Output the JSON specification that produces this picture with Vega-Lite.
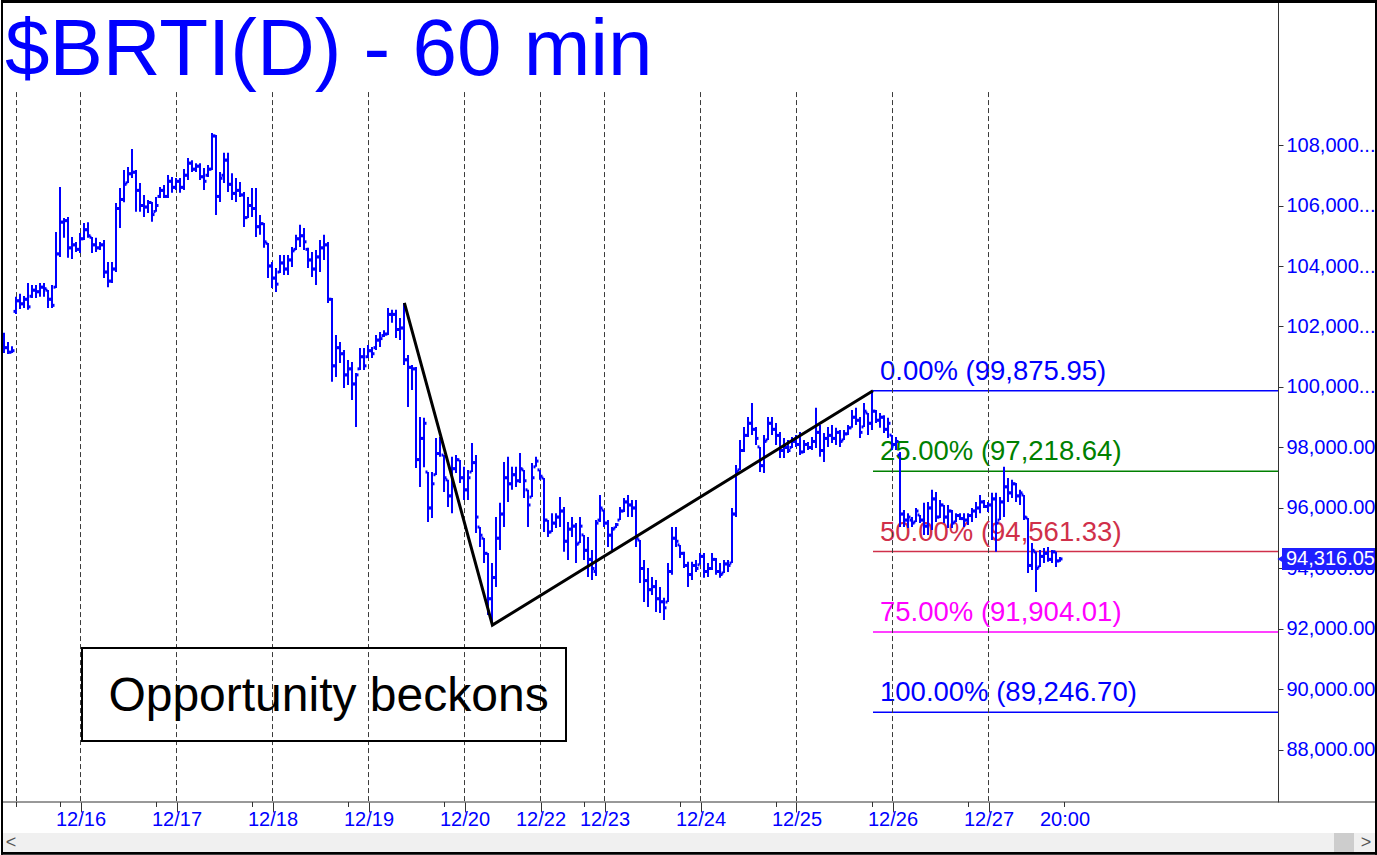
{
"$schema": "https://vega.github.io/schema/vega-lite/v6.json",
"width": 1277, "height": 802, "padding": 0, "background": "white",
"config": {"view": {"stroke": null}, "font": "Liberation Sans"},
"datasets": {
"one": [{}],
"bars": [
{"i":0,"o":101700,"h":101790,"l":101120,"c":101300},{"i":1,"o":101300,"h":101490,"l":101090,"c":101150},{"i":2,"o":101150,"h":101350,"l":101120,"c":101200},{"i":3,"o":102500,"h":102980,"l":102410,"c":102850},{"i":4,"o":102850,"h":103080,"l":102580,"c":102750},{"i":5,"o":102750,"h":103010,"l":102610,"c":102900},{"i":6,"o":102900,"h":103440,"l":102550,"c":102650},{"i":7,"o":103000,"h":103370,"l":102940,"c":103200},{"i":8,"o":103200,"h":103370,"l":102940,"c":103150},{"i":9,"o":103150,"h":103440,"l":102980,"c":103300},
{"i":10,"o":103300,"h":103440,"l":102980,"c":103250},{"i":11,"o":103200,"h":103210,"l":102610,"c":102900},{"i":12,"o":102900,"h":103370,"l":102610,"c":102700},{"i":13,"o":103300,"h":105120,"l":103270,"c":104400},{"i":14,"o":104400,"h":106610,"l":104300,"c":105450},{"i":15,"o":105450,"h":105590,"l":104930,"c":105500},{"i":16,"o":105500,"h":105620,"l":104270,"c":104600},{"i":17,"o":104600,"h":104960,"l":104230,"c":104700},{"i":18,"o":104700,"h":104790,"l":104460,"c":104550},{"i":19,"o":104550,"h":105090,"l":104430,"c":104900},
{"i":20,"o":104900,"h":105420,"l":104860,"c":105200},{"i":21,"o":105200,"h":105450,"l":104930,"c":105000},{"i":22,"o":104950,"h":104960,"l":104430,"c":104700},{"i":23,"o":104700,"h":104930,"l":104460,"c":104600},{"i":24,"o":104600,"h":104790,"l":104530,"c":104700},{"i":25,"o":104700,"h":104860,"l":103600,"c":103800},{"i":26,"o":103800,"h":104130,"l":103300,"c":103500},{"i":27,"o":103500,"h":104130,"l":103440,"c":103900},{"i":28,"o":103900,"h":106080,"l":103800,"c":105900},{"i":29,"o":105900,"h":106580,"l":105260,"c":106200},
{"i":30,"o":106200,"h":107170,"l":106110,"c":106700},{"i":31,"o":106750,"h":107270,"l":106740,"c":107050},{"i":32,"o":107050,"h":107870,"l":106910,"c":107100},{"i":33,"o":107100,"h":107170,"l":105790,"c":106500},{"i":34,"o":106500,"h":106740,"l":105790,"c":106000},{"i":35,"o":106000,"h":106350,"l":105620,"c":105950},{"i":36,"o":105950,"h":106180,"l":105750,"c":106100},{"i":37,"o":106100,"h":106120,"l":105460,"c":105700},{"i":38,"o":105800,"h":106280,"l":105790,"c":106000},{"i":39,"o":106300,"h":106610,"l":106250,"c":106500},
{"i":40,"o":106500,"h":106680,"l":106250,"c":106300},{"i":41,"o":106300,"h":107010,"l":106250,"c":106800},{"i":42,"o":106800,"h":106940,"l":106420,"c":106600},{"i":43,"o":106600,"h":106910,"l":106510,"c":106800},{"i":44,"o":106800,"h":106910,"l":106420,"c":106600},{"i":45,"o":106600,"h":107210,"l":106510,"c":107000},{"i":46,"o":107000,"h":107570,"l":106840,"c":107400},{"i":47,"o":107400,"h":107500,"l":107110,"c":107200},{"i":48,"o":107200,"h":107400,"l":107110,"c":107300},{"i":49,"o":107300,"h":107400,"l":106840,"c":106950},
{"i":50,"o":106950,"h":107240,"l":106510,"c":106800},{"i":51,"o":107000,"h":107340,"l":106940,"c":107200},{"i":52,"o":107200,"h":108400,"l":107170,"c":108300},{"i":53,"o":108300,"h":108330,"l":105690,"c":106300},{"i":54,"o":106300,"h":107110,"l":106120,"c":106900},{"i":55,"o":107000,"h":107740,"l":106740,"c":107500},{"i":56,"o":107500,"h":107740,"l":106450,"c":106700},{"i":57,"o":106700,"h":107070,"l":106180,"c":106400},{"i":58,"o":106400,"h":106910,"l":106120,"c":106500},{"i":59,"o":106500,"h":106780,"l":106280,"c":106350},
{"i":60,"o":106350,"h":106450,"l":105290,"c":105600},{"i":61,"o":105600,"h":106280,"l":105590,"c":106000},{"i":62,"o":106000,"h":106580,"l":105620,"c":105900},{"i":63,"o":105900,"h":106580,"l":104960,"c":105300},{"i":64,"o":105300,"h":105690,"l":105030,"c":105400},{"i":65,"o":105400,"h":105420,"l":104600,"c":104800},{"i":66,"o":104750,"h":104760,"l":103600,"c":104000},{"i":67,"o":104000,"h":104130,"l":103270,"c":103600},{"i":68,"o":103600,"h":103930,"l":103140,"c":103400},{"i":69,"o":103800,"h":104360,"l":103770,"c":104100},
{"i":70,"o":104100,"h":104360,"l":103700,"c":103900},{"i":71,"o":103900,"h":104360,"l":103700,"c":104200},{"i":72,"o":104200,"h":104630,"l":103970,"c":104500},{"i":73,"o":104550,"h":105030,"l":104530,"c":104900},{"i":74,"o":104900,"h":105360,"l":104630,"c":105000},{"i":75,"o":105000,"h":105260,"l":104530,"c":104800},{"i":76,"o":104550,"h":104600,"l":103930,"c":104200},{"i":77,"o":104200,"h":104460,"l":103640,"c":103900},{"i":78,"o":103900,"h":104530,"l":103370,"c":104300},{"i":79,"o":104300,"h":104860,"l":103800,"c":104600},
{"i":80,"o":104600,"h":105030,"l":104200,"c":104700},{"i":81,"o":104700,"h":104790,"l":102780,"c":102900},{"i":82,"o":102900,"h":102940,"l":100170,"c":100700},{"i":83,"o":100700,"h":101720,"l":100330,"c":101300},{"i":84,"o":101300,"h":101490,"l":100790,"c":101100},{"i":85,"o":101100,"h":101220,"l":99970,"c":100400},{"i":86,"o":100400,"h":100890,"l":100070,"c":100600},{"i":87,"o":100600,"h":100830,"l":99570,"c":100100},{"i":88,"o":100100,"h":100460,"l":98680,"c":100400},{"i":89,"o":100600,"h":101290,"l":100560,"c":101000},
{"i":90,"o":101000,"h":101290,"l":100560,"c":100700},{"i":91,"o":101000,"h":101390,"l":100960,"c":101200},{"i":92,"o":101200,"h":101320,"l":100960,"c":101100},{"i":93,"o":101300,"h":101720,"l":101220,"c":101550},{"i":94,"o":101550,"h":101820,"l":101320,"c":101600},{"i":95,"o":101700,"h":101880,"l":101650,"c":101750},{"i":96,"o":101750,"h":102610,"l":101720,"c":102400},{"i":97,"o":102400,"h":102550,"l":102120,"c":102400},{"i":98,"o":102400,"h":102550,"l":101620,"c":101900},{"i":99,"o":101900,"h":102280,"l":101550,"c":101950},
{"i":100,"o":101950,"h":102780,"l":100730,"c":100900},{"i":101,"o":100900,"h":101060,"l":99340,"c":100650},{"i":102,"o":100650,"h":100730,"l":99900,"c":100600},{"i":103,"o":100600,"h":100660,"l":97320,"c":97600},{"i":104,"o":97600,"h":99010,"l":96690,"c":98300},{"i":105,"o":98300,"h":98980,"l":97350,"c":98800},{"i":106,"o":97190,"h":97190,"l":95540,"c":96000},{"i":107,"o":96000,"h":97190,"l":95670,"c":96800},{"i":108,"o":97100,"h":98310,"l":97090,"c":97800},{"i":109,"o":97800,"h":98350,"l":97690,"c":98250},
{"i":110,"o":97750,"h":97750,"l":96530,"c":97000},{"i":111,"o":96930,"h":96930,"l":96030,"c":96400},{"i":112,"o":96400,"h":97690,"l":95830,"c":97300},{"i":113,"o":97300,"h":97750,"l":97160,"c":97600},{"i":114,"o":97590,"h":97590,"l":96830,"c":97000},{"i":115,"o":97000,"h":97360,"l":96260,"c":96600},{"i":116,"o":96600,"h":97260,"l":96260,"c":97000},{"i":117,"o":97190,"h":98150,"l":97190,"c":97500},{"i":118,"o":97500,"h":97750,"l":95170,"c":95700},{"i":119,"o":95370,"h":95370,"l":94710,"c":95100},
{"i":120,"o":95000,"h":95010,"l":94180,"c":94500},{"i":121,"o":94500,"h":94510,"l":92460,"c":93000},{"i":122,"o":93000,"h":94180,"l":92130,"c":93700},{"i":123,"o":93700,"h":95700,"l":93390,"c":95000},{"i":124,"o":95000,"h":96170,"l":94610,"c":95800},{"i":125,"o":95800,"h":97520,"l":95370,"c":97000},{"i":126,"o":97000,"h":97690,"l":96200,"c":96800},{"i":127,"o":96800,"h":97360,"l":96600,"c":97100},{"i":128,"o":97100,"h":97360,"l":96690,"c":96900},{"i":129,"o":96900,"h":97820,"l":96830,"c":97300},
{"i":130,"o":97260,"h":97260,"l":96330,"c":96900},{"i":131,"o":96600,"h":96600,"l":95370,"c":96100},{"i":132,"o":96360,"h":97490,"l":96360,"c":97000},{"i":133,"o":97360,"h":97690,"l":97360,"c":97550},{"i":134,"o":97260,"h":97260,"l":96930,"c":97050},{"i":135,"o":96990,"h":96990,"l":95210,"c":95600},{"i":136,"o":95600,"h":95600,"l":95040,"c":95200},{"i":137,"o":95210,"h":95830,"l":95210,"c":95500},{"i":138,"o":95500,"h":95830,"l":95340,"c":95700},{"i":139,"o":95700,"h":96360,"l":95370,"c":95900},
{"i":140,"o":95900,"h":96030,"l":94550,"c":94900},{"i":141,"o":94900,"h":95540,"l":94280,"c":95300},{"i":142,"o":95300,"h":95700,"l":95040,"c":95400},{"i":143,"o":95400,"h":95500,"l":94180,"c":94800},{"i":144,"o":94840,"h":95700,"l":94840,"c":95400},{"i":145,"o":95110,"h":95110,"l":94280,"c":94600},{"i":146,"o":94600,"h":95040,"l":93720,"c":94300},{"i":147,"o":94300,"h":94610,"l":93620,"c":94000},{"i":148,"o":93900,"h":95600,"l":93750,"c":95500},{"i":149,"o":95600,"h":96430,"l":95540,"c":96000},
{"i":150,"o":95930,"h":95930,"l":95370,"c":95500},{"i":151,"o":95500,"h":95600,"l":94710,"c":95100},{"i":152,"o":95100,"h":95370,"l":94610,"c":95300},{"i":153,"o":95340,"h":95500,"l":95340,"c":95450},{"i":154,"o":95600,"h":96030,"l":95600,"c":95900},{"i":155,"o":95900,"h":96330,"l":95870,"c":96200},{"i":156,"o":96200,"h":96430,"l":95700,"c":96100},{"i":157,"o":96100,"h":96260,"l":95700,"c":96000},{"i":158,"o":96000,"h":96260,"l":94710,"c":95000},{"i":159,"o":94940,"h":94940,"l":93520,"c":94000},
{"i":160,"o":94000,"h":94280,"l":92890,"c":93600},{"i":161,"o":93600,"h":94020,"l":92730,"c":93300},{"i":162,"o":93300,"h":93720,"l":93120,"c":93400},{"i":163,"o":93400,"h":93620,"l":92560,"c":93000},{"i":164,"o":93000,"h":93390,"l":92530,"c":92900},{"i":165,"o":92900,"h":93030,"l":92300,"c":92700},{"i":166,"o":92890,"h":94180,"l":92890,"c":93900},{"i":167,"o":93900,"h":95370,"l":93790,"c":95000},{"i":168,"o":95000,"h":95370,"l":94710,"c":94900},{"i":169,"o":94780,"h":94780,"l":94350,"c":94500},
{"i":170,"o":94500,"h":94550,"l":94020,"c":94100},{"i":171,"o":94100,"h":94220,"l":93390,"c":93800},{"i":172,"o":93800,"h":94220,"l":93620,"c":94100},{"i":173,"o":94100,"h":94280,"l":93880,"c":94000},{"i":174,"o":94120,"h":94510,"l":94120,"c":94400},{"i":175,"o":94400,"h":94510,"l":93690,"c":93900},{"i":176,"o":93900,"h":94180,"l":93720,"c":94000},{"i":177,"o":94000,"h":94510,"l":93950,"c":94300},{"i":178,"o":94300,"h":94350,"l":93790,"c":93900},{"i":179,"o":93900,"h":94180,"l":93690,"c":93800},
{"i":180,"o":93850,"h":94280,"l":93850,"c":94150},{"i":181,"o":94150,"h":94280,"l":93880,"c":94100},{"i":182,"o":94180,"h":96000,"l":94180,"c":95800},{"i":183,"o":95800,"h":97420,"l":95700,"c":97200},{"i":184,"o":97260,"h":98250,"l":97260,"c":97900},{"i":185,"o":97900,"h":98680,"l":97850,"c":98400},{"i":186,"o":98400,"h":99010,"l":98350,"c":98800},{"i":187,"o":98800,"h":99470,"l":98410,"c":98600},{"i":188,"o":98600,"h":98680,"l":98080,"c":98300},{"i":189,"o":98020,"h":98020,"l":97190,"c":97400},
{"i":190,"o":97400,"h":98410,"l":97160,"c":98200},{"i":191,"o":98250,"h":99010,"l":98250,"c":98800},{"i":192,"o":98800,"h":99010,"l":98410,"c":98600},{"i":193,"o":98600,"h":98810,"l":98080,"c":98400},{"i":194,"o":98400,"h":98510,"l":97650,"c":97900},{"i":195,"o":97900,"h":98310,"l":97650,"c":98000},{"i":196,"o":98000,"h":98250,"l":97820,"c":97900},{"i":197,"o":98000,"h":98350,"l":97980,"c":98200},{"i":198,"o":98200,"h":98410,"l":98020,"c":98100},{"i":199,"o":98100,"h":98510,"l":97750,"c":97850},
{"i":200,"o":97850,"h":98250,"l":97820,"c":98100},{"i":201,"o":98100,"h":98180,"l":97920,"c":98000},{"i":202,"o":98000,"h":98350,"l":97920,"c":98200},{"i":203,"o":98200,"h":99310,"l":97980,"c":98500},{"i":204,"o":98500,"h":98740,"l":97690,"c":97900},{"i":205,"o":97900,"h":98480,"l":97520,"c":98300},{"i":206,"o":98300,"h":98680,"l":98020,"c":98400},{"i":207,"o":98400,"h":98740,"l":98150,"c":98300},{"i":208,"o":98300,"h":98650,"l":98080,"c":98500},{"i":209,"o":98500,"h":98580,"l":98020,"c":98200},
{"i":210,"o":98250,"h":98580,"l":98250,"c":98450},{"i":211,"o":98450,"h":98740,"l":98410,"c":98650},{"i":212,"o":98650,"h":99240,"l":98650,"c":99000},{"i":213,"o":99000,"h":99310,"l":98740,"c":98900},{"i":214,"o":98900,"h":99010,"l":98310,"c":98500},{"i":215,"o":98680,"h":99470,"l":98680,"c":99200},{"i":216,"o":99140,"h":99140,"l":98410,"c":98800},{"i":217,"o":98800,"h":99876,"l":98580,"c":99200},{"i":218,"o":99200,"h":99240,"l":98810,"c":98900},{"i":219,"o":98900,"h":99140,"l":98650,"c":99000},
{"i":220,"o":99000,"h":99070,"l":98480,"c":98600},{"i":221,"o":98600,"h":98980,"l":98310,"c":98800},{"i":222,"o":98410,"h":98410,"l":97920,"c":98100},{"i":223,"o":98100,"h":98350,"l":97920,"c":98200},{"i":224,"o":97750,"h":97850,"l":95370,"c":95800},{"i":225,"o":95800,"h":95930,"l":95370,"c":95600},{"i":226,"o":95600,"h":95830,"l":95340,"c":95700},{"i":227,"o":95600,"h":95700,"l":95370,"c":95500},{"i":228,"o":95540,"h":96000,"l":95540,"c":95900},{"i":229,"o":95770,"h":95770,"l":95500,"c":95600},
{"i":230,"o":95600,"h":96170,"l":95110,"c":95400},{"i":231,"o":95400,"h":96200,"l":95110,"c":96000},{"i":232,"o":96000,"h":96600,"l":95270,"c":96300},{"i":233,"o":96300,"h":96530,"l":95540,"c":95700},{"i":234,"o":95700,"h":96260,"l":95670,"c":96100},{"i":235,"o":96100,"h":96100,"l":95500,"c":95700},{"i":236,"o":95700,"h":96100,"l":95340,"c":95900},{"i":237,"o":95900,"h":95930,"l":95340,"c":95500},{"i":238,"o":95540,"h":95830,"l":95540,"c":95750},{"i":239,"o":95750,"h":95830,"l":95600,"c":95650},
{"i":240,"o":95650,"h":95830,"l":95370,"c":95600},{"i":241,"o":95600,"h":95830,"l":95440,"c":95750},{"i":242,"o":95750,"h":96000,"l":95540,"c":95900},{"i":243,"o":95900,"h":96200,"l":95670,"c":96000},{"i":244,"o":96000,"h":96430,"l":95830,"c":96200},{"i":245,"o":96200,"h":96260,"l":96000,"c":96050},{"i":246,"o":96050,"h":96200,"l":95870,"c":96100},{"i":247,"o":96100,"h":96500,"l":94940,"c":96300},{"i":248,"o":96300,"h":96500,"l":94550,"c":95500},{"i":249,"o":95600,"h":96360,"l":95600,"c":96200},
{"i":250,"o":96200,"h":97360,"l":95700,"c":96700},{"i":251,"o":96700,"h":96990,"l":96200,"c":96500},{"i":252,"o":96500,"h":96930,"l":96330,"c":96800},{"i":253,"o":96800,"h":96830,"l":96200,"c":96400},{"i":254,"o":96400,"h":96600,"l":96100,"c":96500},{"i":255,"o":96430,"h":96430,"l":95600,"c":95700},{"i":256,"o":95670,"h":95670,"l":93850,"c":94100},{"i":257,"o":94100,"h":94840,"l":93950,"c":94600},{"i":258,"o":94550,"h":94550,"l":93220,"c":94000},{"i":259,"o":94050,"h":94610,"l":94050,"c":94400},
{"i":260,"o":94400,"h":94680,"l":94180,"c":94500},{"i":261,"o":94500,"h":94710,"l":94220,"c":94300},{"i":262,"o":94300,"h":94610,"l":94180,"c":94550},{"i":263,"o":94550,"h":94550,"l":94050,"c":94250},{"i":264,"o":94250,"h":94380,"l":94220,"c":94316.05}
],
"fib": [
{"lvl":"0.00%","v":99875.95,"lab":"0.00% (99,875.95)"},
{"lvl":"25.00%","v":97218.64,"lab":"25.00% (97,218.64)"},
{"lvl":"50.00%","v":94561.33,"lab":"50.00% (94,561.33)"},
{"lvl":"75.00%","v":91904.01,"lab":"75.00% (91,904.01)"},
{"lvl":"100.00%","v":89246.70,"lab":"100.00% (89,246.70)"}
],
"days": [{"d":3.125},{"d":19.125},{"d":43.125},{"d":67.125},{"d":91.125},{"d":115.125},{"d":134.125},{"d":150.125},{"d":174.125},{"d":198.125},{"d":222.125},{"d":246.125}],
"minors": [{"m":3.125},{"m":14.125},{"m":38.125},{"m":62.125},{"m":86.125},{"m":110.125},{"m":145.125},{"m":169.125},{"m":193.125},{"m":217.125},{"m":241.125},{"m":265.125}],
"trend": [{"i":100.1,"p":102780},{"i":122.1,"p":92130},{"i":217.25,"p":99876}]
},
"layer": [
{"data": {"name": "fib"},
 "mark": {"type": "rule", "strokeWidth": 1.5},
 "encoding": {
  "x": {"datum": 217.25},
  "x2": {"datum": 318.5},
  "y": {"field": "v", "type": "quantitative"},
  "color": {"field": "lvl", "type": "nominal", "legend": null,
    "scale": {"domain": ["0.00%","25.00%","50.00%","75.00%","100.00%"], "range": ["#0000ff","#008000","#d0304a","#ff00ff","#0000ff"]}}
 }},
{"data": {"name": "fib"},
 "mark": {"type": "text", "fontSize": 27.5, "align": "left", "baseline": "alphabetic", "dy": -11},
 "encoding": {
  "x": {"datum": 219.0},
  "y": {"field": "v", "type": "quantitative"},
  "text": {"field": "lab"},
  "color": {"field": "lvl", "type": "nominal", "legend": null}
 }},
{"data": {"name": "days"},
 "mark": {"type": "rule", "stroke": "#3c3c3c", "strokeWidth": 1, "strokeDash": [5, 3]},
 "encoding": {"x": {"field": "d", "type": "quantitative"}, "y": {"datum": 109750}, "y2": {"datum": 86280}}},
{"data": {"name": "one"},
 "mark": {"type": "rect", "fill": "transparent", "stroke": "black", "strokeWidth": 2},
 "encoding": {"x": {"datum": 19.5}, "x2": {"datum": 140.5}, "y": {"datum": 91371}, "y2": {"datum": 88297}}},
{"data": {"name": "one"},
 "mark": {"type": "text", "text": "Opportunity beckons", "fontSize": 48, "color": "black", "align": "center", "baseline": "alphabetic"},
 "encoding": {"x": {"datum": 81.125}, "y": {"datum": 89298}}},
{"data": {"name": "bars"},
 "layer": [
  {"mark": {"type": "rule", "color": "#0000ff", "strokeWidth": 2, "clip": true},
   "encoding": {
    "x": {"field": "i", "type": "quantitative",
      "scale": {"domain": [-0.75, 318.5], "nice": false, "zero": false},
      "axis": {"title": null, "grid": false, "domain": false,
        "values": [19.125, 43.125, 67.125, 91.125, 115.125, 134.125, 150.125, 174.125, 198.125, 222.125, 246.125, 265.125],
        "labelExpr": "datum.value < 10 ? '' : datum.value < 30 ? '12/16' : datum.value < 50 ? '12/17' : datum.value < 80 ? '12/18' : datum.value < 100 ? '12/19' : datum.value < 125 ? '12/20' : datum.value < 140 ? '12/22' : datum.value < 160 ? '12/23' : datum.value < 185 ? '12/24' : datum.value < 210 ? '12/25' : datum.value < 230 ? '12/26' : datum.value < 255 ? '12/27' : '20:00'",
        "tickSize": 10, "tickColor": {"condition": {"test": "datum.value > 260", "value": "transparent"}, "value": "#333333"},
        "labelPadding": -3, "labelFontSize": 20, "labelColor": "#0000ff", "labelOverlap": false, "labelFlush": false, "labelBound": false}},
    "y": {"field": "l", "type": "quantitative",
      "scale": {"domain": [86280, 112794], "nice": false, "zero": false},
      "axis": {"orient": "right", "title": null, "grid": false,
        "values": [88000, 90000, 92000, 94000, 96000, 98000, 100000, 102000, 104000, 106000, 108000],
        "labelExpr": "datum.value >= 100000 ? format(datum.value, ',') + '...' : format(datum.value, ',.2f')",
        "tickSize": 5, "tickColor": "#333333", "domainColor": "#333333", "labelPadding": 3,
        "labelFontSize": 20, "labelColor": "#0000ff", "labelOverlap": false, "labelFlush": false, "labelBound": false}},
    "y2": {"field": "h"}
   }},
  {"mark": {"type": "tick", "orient": "vertical", "color": "#0000ff", "size": 3, "thickness": 2, "xOffset": -1.5, "opacity": 1, "clip": true},
   "encoding": {"x": {"field": "i", "type": "quantitative"}, "y": {"field": "o", "type": "quantitative"}}},
  {"mark": {"type": "tick", "orient": "vertical", "color": "#0000ff", "size": 3, "thickness": 2, "xOffset": 1.5, "opacity": 1, "clip": true},
   "encoding": {"x": {"field": "i", "type": "quantitative"}, "y": {"field": "c", "type": "quantitative"}}}
 ]},
{"data": {"name": "trend"},
 "mark": {"type": "line", "color": "black", "strokeWidth": 3},
 "encoding": {"x": {"field": "i", "type": "quantitative"}, "y": {"field": "p", "type": "quantitative"}, "order": {"field": "i"}}},
{"data": {"name": "one"},
 "mark": {"type": "text", "text": "$BRTI(D) - 60 min", "fontSize": 80, "color": "#0000ff", "align": "left", "baseline": "alphabetic"},
 "encoding": {"x": {"datum": 0.25}, "y": {"datum": 110315}}},
{"data": {"name": "minors"},
 "mark": {"type": "rule", "stroke": "#333333", "strokeWidth": 1},
 "encoding": {"x": {"field": "m", "type": "quantitative"}, "y": {"datum": 86280}, "y2": {"datum": 86115}}},
{"data": {"name": "one"},
 "mark": {"type": "rule", "stroke": "#333333", "strokeWidth": 1},
 "encoding": {"x": {"datum": -0.75}, "x2": {"datum": 342.75}, "y": {"datum": 86280}}},
{"data": {"name": "one"},
 "mark": {"type": "rect", "fill": "#1f1fff"},
 "encoding": {"x": {"datum": 319.5}, "x2": {"datum": 342.75}, "y": {"datum": 94677}, "y2": {"datum": 93950}}},
{"data": {"name": "one"},
 "mark": {"type": "point", "shape": "M 1 -1 L 1 1 L -0.6 0 Z", "size": 484, "filled": true, "color": "#1f1fff", "opacity": 1, "strokeWidth": 0},
 "encoding": {"x": {"datum": 320.0}, "y": {"datum": 94316}}},
{"data": {"name": "one"},
 "mark": {"type": "text", "text": "94,316.05", "fontSize": 20, "color": "white", "align": "left", "baseline": "middle"},
 "encoding": {"x": {"datum": 320.5}, "y": {"datum": 94316}}},
{"data": {"name": "one"},
 "mark": {"type": "rect", "fill": "#f0f0f0"},
 "encoding": {"x": {"datum": -0.25}, "x2": {"datum": 342.75}, "y": {"datum": 85255}, "y2": {"datum": 84627}}},
{"data": {"name": "one"},
 "mark": {"type": "rect", "fill": "#cdcdcd"},
 "encoding": {"x": {"datum": 332.5}, "x2": {"datum": 337.5}, "y": {"datum": 85255}, "y2": {"datum": 84627}}},
{"data": {"name": "one"},
 "mark": {"type": "text", "text": "<", "fontSize": 18, "color": "#555555", "align": "center", "baseline": "middle"},
 "encoding": {"x": {"datum": 1.75}, "y": {"datum": 84925}}},
{"data": {"name": "one"},
 "mark": {"type": "text", "text": ">", "fontSize": 18, "color": "#555555", "align": "center", "baseline": "middle"},
 "encoding": {"x": {"datum": 340.5}, "y": {"datum": 84925}}},
{"data": {"name": "one"},
 "mark": {"type": "rect", "fill": "black"},
 "encoding": {"x": {"datum": -0.75}, "x2": {"datum": 343.5}, "y": {"datum": 112794}, "y2": {"datum": 112695}}},
{"data": {"name": "one"},
 "mark": {"type": "rect", "fill": "black"},
 "encoding": {"x": {"datum": -0.75}, "x2": {"datum": -0.25}, "y": {"datum": 112794}, "y2": {"datum": 84540}}},
{"data": {"name": "one"},
 "mark": {"type": "rect", "fill": "black"},
 "encoding": {"x": {"datum": 342.75}, "x2": {"datum": 343.5}, "y": {"datum": 112794}, "y2": {"datum": 84540}}},
{"data": {"name": "one"},
 "mark": {"type": "rect", "fill": "black"},
 "encoding": {"x": {"datum": -0.75}, "x2": {"datum": 343.5}, "y": {"datum": 84627}, "y2": {"datum": 84540}}}
]
}
